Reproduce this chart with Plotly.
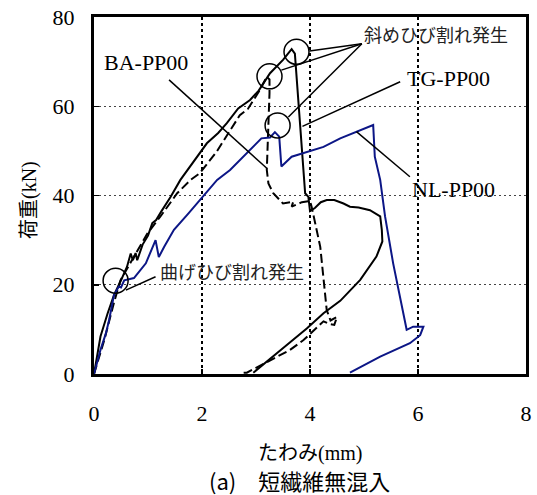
import plotly.graph_objects as go

# ---- data (deflection mm, load kN) ----
tg_x = [0, 0.12, 0.25, 0.37, 0.5, 0.61, 0.68, 0.72, 0.77, 0.8, 0.9, 1.0, 1.08, 1.15, 1.25, 1.42,
        1.6, 1.84, 2.09, 2.3, 2.46, 2.67, 2.89, 3.05, 3.26, 3.5, 3.66, 3.72, 3.91, 3.97, 4.0,
        4.09, 4.2, 4.31, 4.45, 4.62, 4.74, 4.9, 5.11, 5.3, 5.33, 5.34, 5.23, 4.93, 4.56,
        4.25, 3.94, 3.38, 2.95]
tg_y = [0, 8.4, 13.5, 17.7, 21.0, 24.0, 27.0, 25.5, 27.1, 25.5, 29.0, 31.0, 33.8, 34.5, 36.5, 39.7,
        43.5, 47.6, 51.7, 54.0, 56.2, 59.5, 61.4, 63.5, 67.4, 70.4, 72.8, 71.8, 40.5, 39.7, 36.5,
        37.2, 38.5, 39.0, 39.0, 38.2, 37.5, 37.3, 36.7, 35.3, 32.3, 29.7, 26.3, 21.1, 16.4,
        13.6, 10.2, 4.6, 0.3]

ba_x = [0, 0.19, 0.37, 0.49, 0.74, 0.99, 1.23, 1.54, 1.79, 1.96, 2.27, 2.52, 2.7, 2.85, 3.07,
        3.2, 3.25, 3.25, 3.23, 3.2, 3.23, 3.32, 3.5, 3.69, 3.66, 3.85, 4.0, 4.03, 4.19, 4.31,
        4.38, 4.5, 4.45, 4.36, 4.25, 3.88, 3.63, 2.83, 2.7]
ba_y = [0, 7.6, 16.0, 21.0, 26.3, 31.5, 35.3, 40.5, 43.5, 45.0, 49.8, 54.7, 58.0, 59.4, 63.6,
        66.6, 66.0, 62.9, 54.7, 45.7, 42.7, 40.5, 38.2, 38.6, 37.5, 38.5, 38.8, 37.5, 28.5, 14.3,
        12.0, 12.8, 11.0, 11.2, 11.8, 7.6, 5.4, 0.3, 0.2]

nl_x = [0, 0.12, 0.22, 0.28, 0.37, 0.46, 0.5, 0.56, 0.74, 0.96, 1.14, 1.2, 1.3, 1.48, 1.75,
        2.04, 2.28, 2.52, 2.83, 3.1, 3.26, 3.35, 3.43, 3.47, 3.66, 3.94, 4.25, 4.56, 4.86, 5.17,
        5.2, 5.3, 5.39, 5.54, 5.79, 5.91, 6.1, 6.04, 5.85, 5.3, 4.74]
nl_y = [0, 5.4, 9.1, 12.1, 17.7, 19.6, 19.4, 21.0, 21.5, 24.8, 30.0, 26.2, 28.5, 32.3, 36.0,
        40.1, 43.5, 45.7, 49.5, 52.8, 53.0, 54.2, 53.2, 46.5, 48.7, 49.8, 50.9, 52.8, 54.3, 55.8,
        48.7, 43.5, 35.3, 24.8, 9.9, 10.6, 10.6, 8.7, 6.9, 3.9, 0.3]

crack_x = [0.40, 3.75, 3.25, 3.40]
crack_y = [20.9, 72.2, 66.7, 55.7]

x_ticks = [0, 2, 4, 6, 8]
y_ticks = [0, 20, 40, 60, 80]

SERIF = "Liberation Serif, Times New Roman, serif"
JP = "Noto Sans CJK JP, sans-serif"

fig = go.Figure()
fig.add_trace(go.Scatter(x=tg_x, y=tg_y, mode="lines", name="TG-PP00",
                         line=dict(color="black", width=2)))
fig.add_trace(go.Scatter(x=ba_x, y=ba_y, mode="lines", name="BA-PP00",
                         line=dict(color="black", width=2, dash="9px,4px")))
fig.add_trace(go.Scatter(x=nl_x, y=nl_y, mode="lines", name="NL-PP00",
                         line=dict(color="#0c1686", width=2)))
fig.add_trace(go.Scatter(x=crack_x, y=crack_y, mode="markers", name="crack",
                         marker=dict(symbol="circle-open", size=25, color="black",
                                     line=dict(width=1.5, color="black"))))

# leader lines
leaders = [
    ((1.39, 65.9), (3.2, 46.1)),
    ((5.67, 65.5), (3.86, 55.5)),
    ((5.85, 44.2), (4.86, 54.3)),
    ((4.96, 74.0), (3.99, 72.4)),
    ((4.96, 74.0), (3.47, 68.1)),
    ((4.96, 74.0), (3.60, 57.6)),
    ((1.14, 21.8), (0.59, 18.8)),
]
shapes = []
for (x0, y0), (x1, y1) in leaders:
    shapes.append(dict(type="line", xref="x", yref="y", x0=x0, y0=y0, x1=x1, y1=y1,
                       line=dict(color="black", width=1.5), layer="above"))

anns = [
    dict(x=0.96, y=69.7, text="BA-PP00", font=dict(family=SERIF, size=22, color="black")),
    dict(x=6.565, y=66.2, text="TG-PP00", font=dict(family=SERIF, size=22, color="black")),
    dict(x=6.66, y=41.3, text="NL-PP00", font=dict(family=SERIF, size=22, color="black")),
    dict(x=6.33, y=76.3, text="斜めひび割れ発生", font=dict(family=JP, size=18, color="#222")),
    dict(x=2.55, y=23.0, text="曲げひび割れ発生", font=dict(family=JP, size=18, color="#222")),
]
annotations = []
for a in anns:
    a.update(xref="x", yref="y", showarrow=False, xanchor="center", yanchor="middle")
    annotations.append(a)

PH = 357.0
PW = 432.0
annotations.append(dict(xref="paper", yref="paper", x=0.5, y=(374 - 451) / PH, xanchor="center",
                        yanchor="middle", showarrow=False,
                        text='<span style="font-family:Noto Sans CJK JP">たわみ</span>(mm)',
                        font=dict(family=SERIF, size=20, color="black")))
annotations.append(dict(xref="paper", yref="paper", x=(299 - 94) / PW, y=(374 - 480) / PH,
                        xanchor="center", yanchor="middle", showarrow=False,
                        text="(a)　短繊維無混入",
                        font=dict(family=JP, size=22, color="black")))
annotations.append(dict(xref="paper", yref="paper", x=-(94 - 28) / PW, y=(374 - 200) / PH,
                        xanchor="center", yanchor="middle", showarrow=False, textangle=-90,
                        text='<span style="font-family:Noto Sans CJK JP">荷重</span>(kN)',
                        font=dict(family=SERIF, size=20, color="black")))

fig.update_layout(
    width=537, height=495,
    margin=dict(l=94, r=11, t=17, b=121, autoexpand=False),
    paper_bgcolor="white", plot_bgcolor="white",
    showlegend=False,
    shapes=shapes,
    annotations=annotations,
    xaxis=dict(range=[0, 8], tickvals=x_ticks, ticks="inside", ticklen=5, tickwidth=1.5,
               tickcolor="black", showline=True, linecolor="black", linewidth=3, mirror=True,
               showgrid=True, gridcolor="black", gridwidth=2, griddash="3px,3px",
               zeroline=False, ticklabelstandoff=18, automargin=False,
               tickfont=dict(family=SERIF, size=22, color="black")),
    yaxis=dict(range=[0, 80], tickvals=y_ticks, ticks="inside", ticklen=5, tickwidth=1.5,
               tickcolor="black", showline=True, linecolor="black", linewidth=3, mirror=True,
               showgrid=True, gridcolor="#444", gridwidth=1, griddash="2px,3px",
               zeroline=False, ticklabelstandoff=12, automargin=False,
               tickfont=dict(family=SERIF, size=22, color="black")),
)

fig.write_html("out.html", config={"displayModeBar": False, "staticPlot": True},
               post_script="document.body.style.margin='0';document.body.style.overflow='hidden';")
